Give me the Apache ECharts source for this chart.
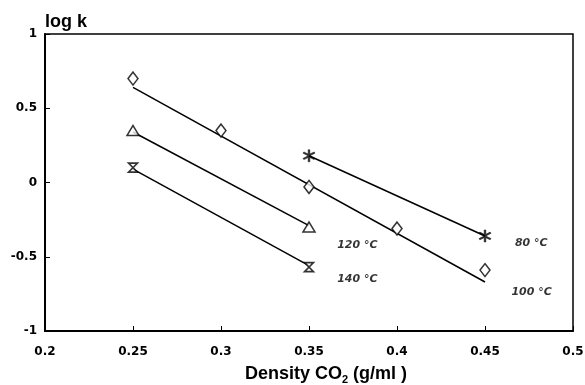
<!DOCTYPE html>
<html><head><meta charset="utf-8">
<script src="https://cdn.jsdelivr.net/npm/echarts@6/dist/echarts.min.js"></script>
<style>html,body{margin:0;padding:0;background:#fff;overflow:hidden}#c{width:585px;height:385px}</style>
</head><body><div id="c"></div>
<script>
// Data
var density = [0.25, 0.30, 0.35, 0.40, 0.45];
var pts80  = [[0.35, 0.18], [0.45, -0.36]];
var pts100 = [[0.25, 0.70], [0.30, 0.35], [0.35, -0.03], [0.40, -0.31], [0.45, -0.59]];
var pts120 = [[0.25, 0.35], [0.35, -0.30]];
var pts140 = [[0.25, 0.10], [0.35, -0.57]];
var fit80  = [[0.35, 0.18], [0.45, -0.36]];
var fit100 = [[0.25, 0.64], [0.45, -0.67]];
var fit120 = [[0.25, 0.34], [0.35, -0.29]];
var fit140 = [[0.25, 0.09], [0.35, -0.56]];
var labels = [
  {text: '80 °C',  at: [0.467, -0.405]},
  {text: '100 °C', at: [0.465, -0.74]},
  {text: '120 °C', at: [0.366, -0.42]},
  {text: '140 °C', at: [0.366, -0.65]}
];
var xTicks = [0.2, 0.25, 0.3, 0.35, 0.4, 0.45, 0.5];
var yTicks = [-1, -0.5, 0, 0.5, 1];

var hourglass = 'path://M0,0 L10,0 L0,10 L10,10 Z';
var star = 'path://M4.4,0 L5.6,0 L5.6,3.6 L8.7,1.8 L9.3,2.8 L6.2,4.6 L6.2,5.4 L9.3,7.2 L8.7,8.2 L5.6,6.4 L5.6,10 L4.4,10 L4.4,6.4 L1.3,8.2 L0.7,7.2 L3.8,5.4 L3.8,4.6 L0.7,2.8 L1.3,1.8 L4.4,3.6 Z';

var chart = echarts.init(document.getElementById('c'));
function lineS(d){return {type:'line', data:d, symbol:'none', lineStyle:{color:'#000', width:1.5}, silent:true, z:2};}
function ptS(d, sym, size, filled, bw){return {type:'scatter', data:d, symbol:sym, symbolSize:size,
  itemStyle:{color: filled ? '#000' : '#fff', borderColor:'#000', borderWidth: bw}, z:3};}
var F = 'Liberation Sans, Arial, sans-serif';
var D = 'DejaVu Sans, sans-serif';
chart.setOption({
  animation:false,
  grid:{left:45, right:12, top:34, bottom:54, show:true, borderColor:'#000', borderWidth:1.5, outerBoundsMode:'none', containLabel:false},
  xAxis:{type:'value', min:0.2, max:0.5, interval:0.05,
    axisLine:{onZero:false, lineStyle:{color:'#000', width:2}},
    axisTick:{inside:true, length:5, lineStyle:{color:'#000'}},
    splitLine:{show:false},
    axisLabel:{color:'#000', fontFamily:D, fontWeight:'bold', fontSize:12, margin:15,
      formatter:function(v){return String(Math.round(v*100)/100);}},
    name:'{a|Density CO}{s|2}{a| (g/ml )}', nameLocation:'middle', nameGap:33,
    nameTextStyle:{padding:[0,0,0,34], rich:{a:{fontFamily:F, fontWeight:'bold', fontSize:18, color:'#000'},
      s:{fontFamily:F, fontWeight:'bold', fontSize:11, color:'#000', verticalAlign:'bottom', padding:[10,0,0,0]}}}
  },
  yAxis:{type:'value', min:-1, max:1, interval:0.5,
    axisLine:{onZero:false, lineStyle:{color:'#000', width:2}},
    axisTick:{inside:true, length:5, lineStyle:{color:'#000'}},
    splitLine:{show:false},
    axisLabel:{color:'#000', fontFamily:D, fontWeight:'bold', fontSize:12, margin:8},
    name:'log k', nameLocation:'end', nameGap:3,
    nameTextStyle:{color:'#000', fontFamily:F, fontWeight:'bold', fontSize:18, align:'left', padding:[0,0,0,0]}
  },
  series:[
    lineS(fit80), lineS(fit100), lineS(fit120), lineS(fit140),
    ptS(pts100, 'diamond', [10,13], false, 1.5),
    ptS(pts120, 'triangle', [12,10], false, 1.5),
    ptS(pts140, hourglass, [9,9], false, 1.6),
    ptS(pts80, star, [12,12], true, 0.6),
    {type:'scatter', symbolSize:0, silent:true, data: labels.map(function(l){return {value:l.at, name:l.text};}),
      label:{show:true, position:'right', distance:0, formatter:'{b}', color:'#000', fontFamily:D, fontWeight:'bold', fontStyle:'italic', fontSize:11}}
  ]
});
</script></body></html>
